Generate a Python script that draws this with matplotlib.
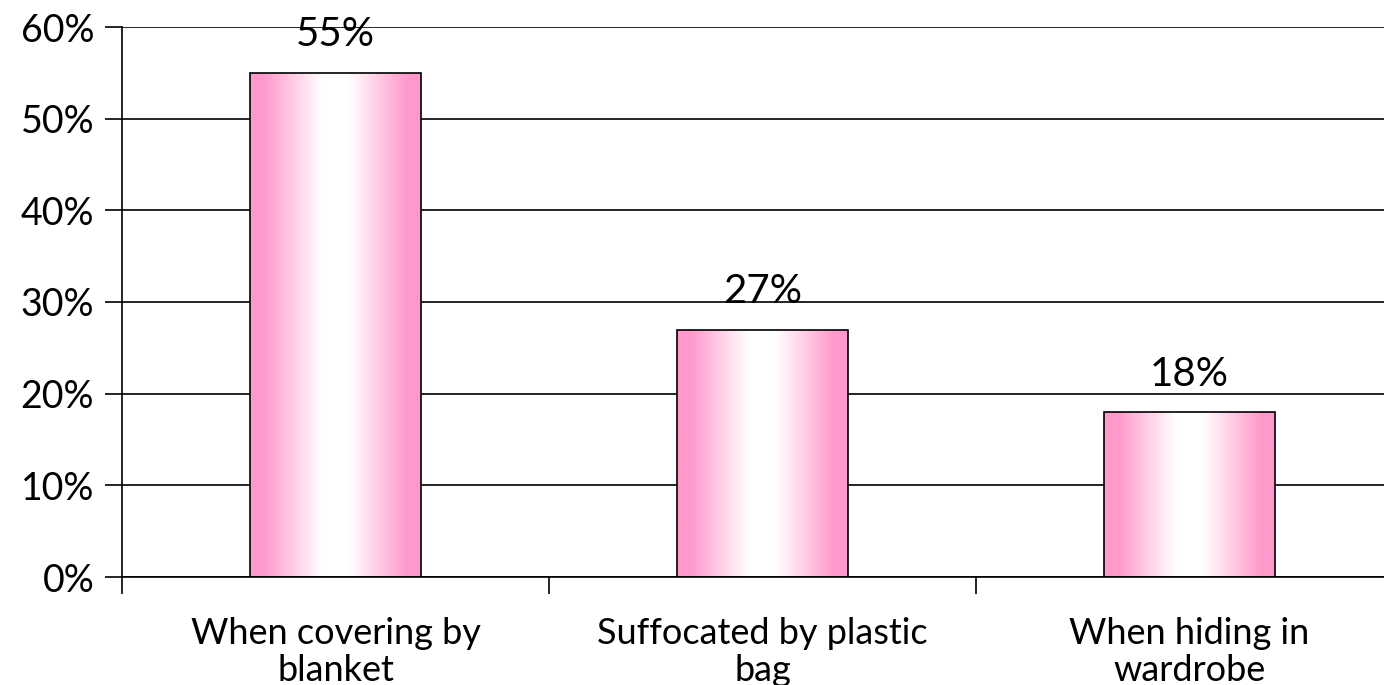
import numpy as np
import matplotlib
matplotlib.use("Agg")
import matplotlib.pyplot as plt
from matplotlib.colors import LinearSegmentedColormap
from matplotlib.ticker import FuncFormatter, MultipleLocator

categories = ["When covering by\nblanket", "Suffocated by plastic\nbag", "When hiding in\nwardrobe"]
values = [55, 27, 18]
value_labels = ["55%", "27%", "18%"]

plt.rcParams['font.family'] = ['Lato', 'DejaVu Sans']

fig = plt.figure(figsize=(13.84, 6.85), dpi=100)
ax = fig.add_axes([122/1384, 1-577/685, (1403-122)/1384, (577-27)/685])

x = np.arange(len(categories))
bars = ax.bar(x, values, width=0.40, facecolor='none', edgecolor='black', linewidth=1.2, zorder=3)

pink = '#FF99CC'
cmap = LinearSegmentedColormap.from_list('pg', [(0, pink), (0.08, pink), (0.42, 'white'), (0.58, 'white'), (0.92, pink), (1, pink)])
grad = np.linspace(0, 1, 256).reshape(1, -1)
for b in bars:
    x0, y0 = b.get_x(), b.get_y()
    w, h = b.get_width(), b.get_height()
    im = ax.imshow(grad, cmap=cmap, extent=[x0, x0 + w, y0, y0 + h], aspect='auto', zorder=2, interpolation='bicubic')
    im.set_clip_path(b)

for xi, v, lab in zip(x, values, value_labels):
    ax.annotate(lab, (xi, v), xytext=(0, 14), textcoords='offset points', ha='center', va='bottom', fontsize=29, color='black')

ax.set_xlim(-0.5, 2.5)
ax.set_ylim(0, 60)
ax.yaxis.set_major_locator(MultipleLocator(10))
ax.yaxis.set_major_formatter(FuncFormatter(lambda v, p: f"{int(v)}%"))
ax.set_xticks(x - 0.5, minor=False)
ax.set_xticks(x, minor=True)
ax.set_xticklabels([], minor=False)
ax.set_xticklabels(categories, minor=True, fontsize=26, linespacing=1.12)
ax.tick_params(axis='x', which='major', direction='out', length=12, width=1.2, color='black')
ax.tick_params(axis='x', which='minor', length=0, pad=29)
ax.tick_params(axis='y', direction='out', length=12, width=1.2, labelsize=27, pad=8)
ax.grid(axis='y', color='black', linewidth=1.2, zorder=0)
ax.set_axisbelow(True)
for s in ['top', 'right']:
    ax.spines[s].set_visible(False)
ax.spines['left'].set_linewidth(1.2)
ax.spines['bottom'].set_linewidth(1.2)

fig.savefig('out.png', dpi=100)
